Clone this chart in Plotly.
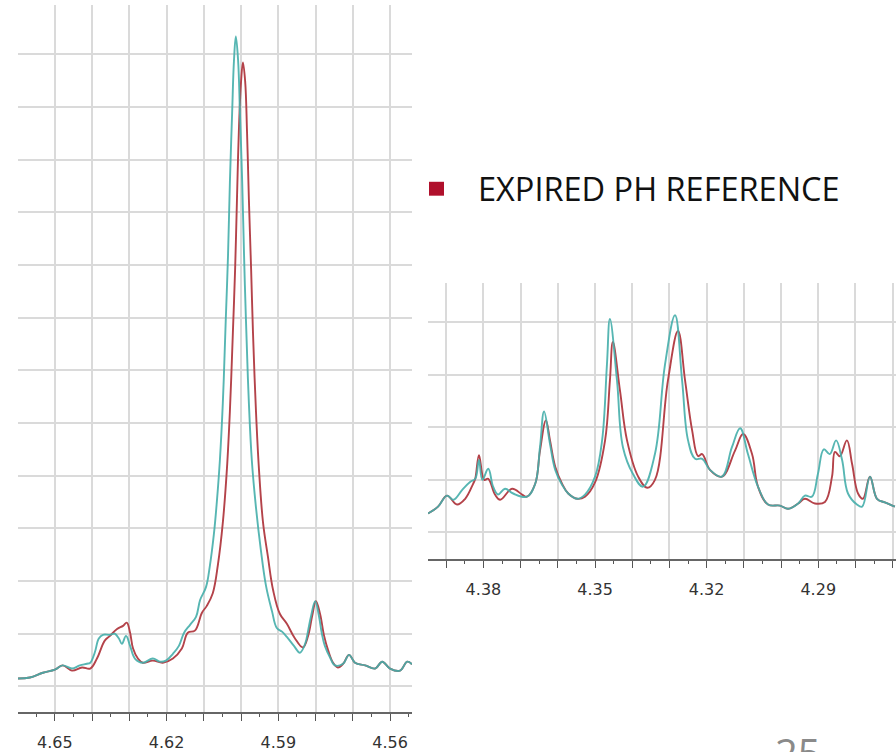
import plotly.graph_objects as go

# ---------------- data (ppm, relative intensity) ----------------
left_ppm_cyan = [4.6599, 4.6567, 4.6532, 4.6500, 4.6479, 4.6454, 4.6433, 4.6414, 4.6405, 4.6393,
                 4.6382, 4.6371, 4.6352, 4.6339, 4.6328, 4.6320, 4.6309, 4.6298, 4.6285, 4.6264,
                 4.6237, 4.6218, 4.6202, 4.6183, 4.6167, 4.6153, 4.6137, 4.6121, 4.6110, 4.6094,
                 4.6084, 4.6073, 4.6065, 4.6057, 4.6049, 4.6041, 4.6035, 4.6030, 4.6024, 4.6019,
                 4.6014, 4.6008, 4.6003, 4.5997, 4.5992, 4.5987, 4.5979, 4.5971, 4.5960, 4.5947,
                 4.5933, 4.5917, 4.5904, 4.5890, 4.5877, 4.5858, 4.5842, 4.5828, 4.5820, 4.5812,
                 4.5801, 4.5791, 4.5783, 4.5775, 4.5761, 4.5748, 4.5726, 4.5710, 4.5694, 4.5667,
                 4.5640, 4.5621, 4.5600, 4.5573, 4.5554, 4.5541]
left_int_cyan = [0.15, 0.17, 0.26, 0.32, 0.40, 0.34, 0.40, 0.43, 0.45, 0.64,
                 0.91, 0.98, 0.98, 1.00, 0.91, 0.81, 0.96, 0.77, 0.53, 0.45,
                 0.53, 0.47, 0.49, 0.62, 0.77, 1.02, 1.17, 1.32, 1.64, 1.89,
                 2.28, 2.89, 3.51, 4.28, 5.38, 6.98, 8.19, 9.58, 10.89, 11.89,
                 12.34, 11.89, 10.89, 9.58, 8.19, 6.98, 5.38, 4.28, 3.40, 2.60,
                 1.91, 1.43, 1.11, 1.04, 0.94, 0.77, 0.64, 0.81, 1.06, 1.34,
                 1.62, 1.34, 1.00, 0.77, 0.55, 0.40, 0.43, 0.60, 0.45, 0.40,
                 0.34, 0.47, 0.34, 0.30, 0.47, 0.42]

left_ppm_red = [4.6599, 4.6567, 4.6532, 4.6500, 4.6479, 4.6454, 4.6427, 4.6405, 4.6387, 4.6366,
                4.6352, 4.6333, 4.6317, 4.6307, 4.6298, 4.6290, 4.6277, 4.6264, 4.6237, 4.6210,
                4.6183, 4.6159, 4.6143, 4.6124, 4.6105, 4.6092, 4.6076, 4.6062, 4.6049, 4.6038,
                4.6030, 4.6022, 4.6016, 4.6011, 4.6006, 4.6000, 4.5995, 4.5989, 4.5984, 4.5979,
                4.5973, 4.5968, 4.5960, 4.5952, 4.5941, 4.5928, 4.5914, 4.5896, 4.5877, 4.5856,
                4.5834, 4.5820, 4.5809, 4.5799, 4.5788, 4.5777, 4.5766, 4.5753, 4.5740, 4.5726,
                4.5710, 4.5694, 4.5667, 4.5640, 4.5621, 4.5600, 4.5573, 4.5554, 4.5541]
left_int_red = [0.15, 0.17, 0.26, 0.32, 0.40, 0.30, 0.36, 0.34, 0.53, 0.87,
                0.96, 1.09, 1.15, 1.21, 1.02, 0.72, 0.53, 0.45, 0.49, 0.45,
                0.53, 0.72, 1.02, 1.06, 1.40, 1.53, 1.77, 2.32, 3.11, 4.13,
                5.23, 6.72, 7.92, 9.25, 10.53, 11.49, 11.85, 11.49, 10.53, 9.25,
                7.92, 6.72, 5.23, 4.13, 3.11, 2.47, 1.83, 1.38, 1.19, 0.92,
                0.74, 0.96, 1.34, 1.62, 1.38, 0.96, 0.68, 0.45, 0.36, 0.43,
                0.60, 0.45, 0.40, 0.34, 0.47, 0.34, 0.30, 0.47, 0.42]

right_ppm_cyan = [4.3949, 4.3922, 4.3898, 4.3881, 4.3857, 4.3836, 4.3822, 4.3812, 4.3803, 4.3787,
                  4.3774, 4.3761, 4.3742, 4.3720, 4.3683, 4.3661, 4.3648, 4.3637, 4.3621, 4.3607,
                  4.3589, 4.3572, 4.3548, 4.3527, 4.3500, 4.3481, 4.3468, 4.3460, 4.3441, 4.3425,
                  4.3398, 4.3371, 4.3339, 4.3312, 4.3285, 4.3266, 4.3250, 4.3231, 4.3212, 4.3191,
                  4.3159, 4.3132, 4.3110, 4.3089, 4.3062, 4.3035, 4.3003, 4.2981, 4.2954, 4.2936,
                  4.2917, 4.2901, 4.2885, 4.2869, 4.2852, 4.2836, 4.2820, 4.2796, 4.2782, 4.2761,
                  4.2742, 4.2721, 4.2694]
right_int_cyan = [0.36, 0.49, 0.70, 0.62, 0.81, 0.96, 1.02, 1.38, 1.00, 1.21,
                  0.87, 0.72, 0.83, 0.74, 0.68, 0.92, 1.62, 2.30, 1.68, 1.19,
                  0.91, 0.74, 0.64, 0.72, 1.06, 1.75, 3.19, 4.06, 2.89, 1.62,
                  1.11, 0.87, 1.49, 3.19, 4.13, 2.89, 1.75, 1.40, 1.40, 1.19,
                  1.06, 1.62, 1.98, 1.49, 0.87, 0.53, 0.51, 0.45, 0.55, 0.70,
                  0.68, 1.11, 1.58, 1.49, 1.75, 1.38, 0.74, 0.53, 0.49, 1.06,
                  0.64, 0.57, 0.49]

right_ppm_red = [4.3949, 4.3922, 4.3898, 4.3871, 4.3849, 4.3828, 4.3822, 4.3812, 4.3798, 4.3787,
                 4.3769, 4.3755, 4.3723, 4.3696, 4.3683, 4.3661, 4.3648, 4.3632, 4.3621, 4.3607,
                 4.3589, 4.3572, 4.3548, 4.3527, 4.3500, 4.3473, 4.3460, 4.3452, 4.3433, 4.3414,
                 4.3384, 4.3360, 4.3339, 4.3304, 4.3277, 4.3258, 4.3239, 4.3223, 4.3212, 4.3191,
                 4.3159, 4.3124, 4.3102, 4.3078, 4.3062, 4.3035, 4.3003, 4.2981, 4.2954, 4.2936,
                 4.2909, 4.2882, 4.2863, 4.2855, 4.2842, 4.2823, 4.2809, 4.2793, 4.2780, 4.2761,
                 4.2742, 4.2721, 4.2694]
right_int_red = [0.36, 0.49, 0.70, 0.53, 0.64, 0.92, 1.02, 1.47, 1.00, 1.02,
                 0.72, 0.62, 0.83, 0.72, 0.68, 0.92, 1.55, 2.13, 1.75, 1.25,
                 0.93, 0.74, 0.64, 0.68, 0.95, 1.75, 2.89, 3.62, 2.70, 1.75,
                 1.06, 0.85, 1.00, 2.89, 3.83, 2.89, 1.94, 1.45, 1.49, 1.19,
                 1.06, 1.55, 1.87, 1.49, 0.87, 0.53, 0.51, 0.45, 0.55, 0.64,
                 0.55, 0.58, 1.06, 1.53, 1.45, 1.75, 1.30, 0.74, 0.64, 1.06,
                 0.64, 0.57, 0.49]

left_grid = [4.66, 4.65, 4.64, 4.63, 4.62, 4.61, 4.60, 4.59, 4.58, 4.57, 4.56, 4.55]
left_labels = ["", "4.65", "", "", "4.62", "", "", "4.59", "", "", "4.56", ""]
right_grid = [4.39, 4.38, 4.37, 4.36, 4.35, 4.34, 4.33, 4.32, 4.31, 4.30, 4.29, 4.28, 4.27]
right_labels = ["", "4.38", "", "", "4.35", "", "", "4.32", "", "", "4.29", "", ""]

legend_label = "EXPIRED PH REFERENCE"
page_number = "25"

CYAN = "#45afab"
RED = "#b4434a"
GRID = "#dadada"

W, H = 896, 752

fig = go.Figure()
common = dict(shape="spline", smoothing=1.1, width=1.9)
fig.add_trace(go.Scatter(x=left_ppm_red, y=left_int_red, mode="lines",
                         line=dict(color=RED, **common),
                         xaxis="x", yaxis="y", hoverinfo="skip"))
fig.add_trace(go.Scatter(x=left_ppm_cyan, y=left_int_cyan, mode="lines",
                         line=dict(color=CYAN, **common),
                         xaxis="x", yaxis="y", opacity=0.9, hoverinfo="skip"))
fig.add_trace(go.Scatter(x=right_ppm_red, y=right_int_red, mode="lines",
                         line=dict(color=RED, **common),
                         xaxis="x2", yaxis="y2", hoverinfo="skip"))
fig.add_trace(go.Scatter(x=right_ppm_cyan, y=right_int_cyan, mode="lines",
                         line=dict(color=CYAN, **common),
                         xaxis="x2", yaxis="y2", opacity=0.9, hoverinfo="skip"))

tickfont = dict(family="DejaVu Sans", size=16, color="#333333")

def xax(domain, rng, vals, labels, anchor):
    return dict(domain=domain, range=rng, anchor=anchor,
                tickmode="array", tickvals=vals, ticktext=labels,
                showgrid=True, gridcolor=GRID, gridwidth=1.6,
                ticks="outside", ticklen=7, tickwidth=1.4, tickcolor="#555",
                minor=dict(dtick=0.005, tick0=4.65, ticks="outside", ticklen=3,
                           tickwidth=1.2, tickcolor="#555", showgrid=False),
                showline=True, linecolor="#666", linewidth=2.2,
                zeroline=False, tickfont=tickfont, ticklabelstandoff=7)

def yax(domain, rng, anchor):
    return dict(domain=domain, range=rng, anchor=anchor, dtick=1, tick0=0,
                showgrid=True, gridcolor=GRID, gridwidth=1.6,
                showticklabels=False, ticks="", zeroline=False, showline=False)

fig.update_layout(
    width=W, height=H,
    margin=dict(l=0, r=0, t=0, b=0),
    paper_bgcolor="white", plot_bgcolor="white",
    showlegend=False,
    xaxis=xax([18 / W, 412 / W], [4.6599, 4.5541], left_grid, left_labels, "y"),
    yaxis=yax([1 - 717 / H, 1 - 5 / H], [-0.49, 12.94], "x"),
    xaxis2=xax([428 / W, 1.0], [4.3949, 4.2691], right_grid, right_labels, "y2"),
    yaxis2=yax([1 - 563 / H, 1 - 285 / H], [-0.51, 4.74], "x2"),
)

# legend entry
fig.add_shape(type="rect", xref="paper", yref="paper",
              x0=429 / W, x1=444 / W, y0=1 - 197 / H, y1=1 - 183 / H,
              fillcolor="#b0102c", line=dict(width=0))
fig.add_annotation(text=legend_label, xref="paper", yref="paper",
                   x=476 / W, y=1 - 190 / H, xanchor="left", yanchor="middle",
                   showarrow=False,
                   font=dict(family="Open Sans", size=32.5, color="#111"))
# page number (cut off at the bottom edge, as in the reference)
fig.add_annotation(text=page_number, xref="paper", yref="paper",
                   x=798 / W, y=1 - 738 / H, xanchor="center", yanchor="top",
                   showarrow=False, yshift=10,
                   font=dict(family="Open Sans", size=40, color="#8a8a8a"))

fig.write_html("out.html", config={"displayModeBar": False},
               post_script="document.body.style.margin='0px';document.body.style.overflow='hidden';")
